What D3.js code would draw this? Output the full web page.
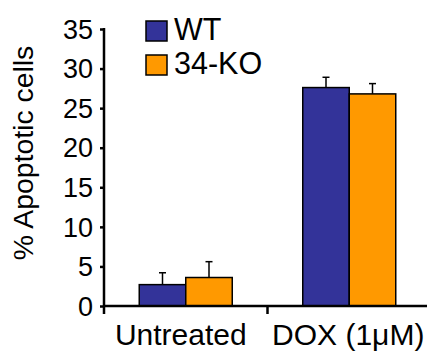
<!DOCTYPE html>
<html>
<head>
<meta charset="utf-8">
<script src="https://cdn.jsdelivr.net/npm/d3@7"></script>
<style>
  html, body { margin: 0; padding: 0; background: #fff; }
  svg text { font-family: "Liberation Sans", Arial, sans-serif; fill: #000; }
</style>
</head>
<body>
<div id="chart"></div>
<script>
// data
const categories = ['Untreated', 'DOX (1\u03bcM)'];
const series = ['WT', '34-KO'];
const seriesColors = ['#333399', '#ff9900'];
const wtMean = [2.7, 27.6];
const wtErr = [1.5, 1.3];
const koMean = [3.6, 26.8];
const koErr = [2.0, 1.3];
const yTicks = [0, 5, 10, 15, 20, 25, 30, 35];

const width = 427, height = 356;

const svg = d3.select('#chart')
    .append('svg')
    .attr('width', width)
    .attr('height', height);

// scales
const y = d3.scaleLinear().domain([0, 35]).range([306, 29]);
const x0 = d3.scaleBand().domain(categories).range([104, 431]);
const groupW = 93;
const x1 = d3.scaleBand().domain(series).range([0, groupW]);
const color = d3.scaleOrdinal().domain(series).range(seriesColors);

const rows = categories.map((c, i) => ({
    cat: c,
    vals: [
        { s: 'WT', v: wtMean[i], e: wtErr[i] },
        { s: '34-KO', v: koMean[i], e: koErr[i] }
    ]
}));

// bars
const groups = svg.append('g')
    .selectAll('g')
    .data(rows)
    .join('g')
    .attr('transform', d => `translate(${x0(d.cat) + (x0.bandwidth() - groupW) / 2},0)`);

// error bars (upper only), drawn under the bars
groups.selectAll('g.err')
    .data(d => d.vals)
    .join('g')
    .attr('class', 'err')
    .each(function(d) {
        const cx = x1(d.s) + x1.bandwidth() / 2;
        const g = d3.select(this);
        g.append('line')
            .attr('x1', cx).attr('x2', cx)
            .attr('y1', y(d.v)).attr('y2', y(d.v + d.e))
            .attr('stroke', '#000').attr('stroke-width', 1.5);
        g.append('line')
            .attr('x1', cx - 3.5).attr('x2', cx + 3.5)
            .attr('y1', y(d.v + d.e)).attr('y2', y(d.v + d.e))
            .attr('stroke', '#000').attr('stroke-width', 1.5);
    });

groups.selectAll('rect')
    .data(d => d.vals)
    .join('rect')
    .attr('x', d => x1(d.s))
    .attr('y', d => y(d.v))
    .attr('width', x1.bandwidth())
    .attr('height', d => y(0) - y(d.v))
    .attr('fill', d => color(d.s))
    .attr('stroke', '#000')
    .attr('stroke-width', 1.5);

// y axis
const yAxis = svg.append('g')
    .attr('transform', 'translate(104,0)')
    .call(d3.axisLeft(y).tickValues(yTicks).tickSize(4).tickSizeOuter(0).tickPadding(7));
yAxis.select('.domain').remove();
yAxis.selectAll('.tick line').attr('stroke', '#000').attr('stroke-width', 2.5);
yAxis.selectAll('.tick text')
    .style('font-size', '27px')
    .attr('dy', '0.34em');
yAxis.append('line')
    .attr('x1', 0).attr('x2', 0)
    .attr('y1', y(35) - 1).attr('y2', 314)
    .attr('stroke', '#000').attr('stroke-width', 2.5);

// x axis
const xAxis = svg.append('g')
    .attr('transform', `translate(0,${y(0)})`);
xAxis.append('line')
    .attr('x1', 104).attr('x2', width)
    .attr('y1', 0).attr('y2', 0)
    .attr('stroke', '#000').attr('stroke-width', 2.5);
xAxis.append('line')
    .attr('x1', x0(categories[1])).attr('x2', x0(categories[1]))
    .attr('y1', 0).attr('y2', 8)
    .attr('stroke', '#000').attr('stroke-width', 2.5);
xAxis.selectAll('text')
    .data(categories)
    .join('text')
    .attr('x', (d, i) => x0(d) + x0.bandwidth() / 2 - (i === 0 ? 5 : 1))
    .attr('y', 39)
    .attr('text-anchor', 'middle')
    .style('font-size', '30px')
    .text(d => d);

// y title
svg.append('text')
    .attr('transform', 'translate(33,153) rotate(-90)')
    .attr('text-anchor', 'middle')
    .style('font-size', '28.4px')
    .text('% Apoptotic cells');

// legend
const legend = svg.append('g')
    .selectAll('g')
    .data(series)
    .join('g')
    .attr('transform', (d, i) => `translate(146,${21 + i * 34})`);
legend.append('rect')
    .attr('width', 21).attr('height', 20)
    .attr('fill', d => color(d))
    .attr('stroke', '#000').attr('stroke-width', 1.5);
legend.append('text')
    .attr('x', 28).attr('y', 19)
    .style('font-size', '30.5px')
    .text(d => d);
</script>
</body>
</html>
